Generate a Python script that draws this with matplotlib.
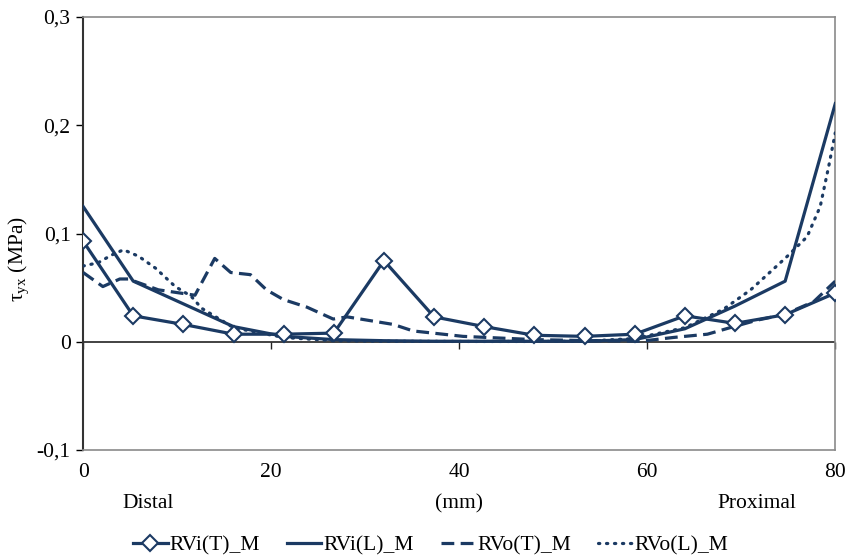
import matplotlib.pyplot as plt

# shear stress tau_yx along the vessel, distal (0 mm) -> proximal (80 mm)
x_nodes = [0, 5.33, 10.67, 16, 21.33, 26.67, 32, 37.33, 42.67, 48, 53.33, 58.67, 64, 69.33, 74.67, 80]
rvi_t = [0.093, 0.024, 0.016, 0.007, 0.007, 0.008, 0.075, 0.023, 0.014, 0.006, 0.005, 0.007, 0.024, 0.017, 0.025, 0.045]
rvi_l = [0.125, 0.056, 0.035, 0.014, 0.005, 0.002, 0.001, 0.0005, 0.0005, 0.0005, 0.0005, 0.002, 0.012, 0.033, 0.056, 0.220]

x_rvo_t = [0, 2.1, 3.9, 4.8, 8.0, 11.9, 14.0, 15.7, 17.8, 19.5, 21.3, 23.8, 26.6, 28.1, 30.9, 33.0,
           35.1, 40.4, 48, 54, 59.3, 62.8, 66.4, 68.8, 71.7, 74.5, 77.7, 80]
rvo_t = [0.064, 0.051, 0.058, 0.058, 0.048, 0.043, 0.077, 0.064, 0.062, 0.048, 0.039, 0.032, 0.021, 0.023,
         0.019, 0.016, 0.010, 0.005, 0.002, 0.001, 0.0005, 0.004, 0.007, 0.013, 0.020, 0.025, 0.037, 0.056]

x_rvo_l = [0, 1.6, 3.0, 4.3, 5.9, 7.7, 9.8, 11.5, 12.6, 16, 21.33, 26.67, 32, 40, 48, 53.33, 58.67,
           64, 68.1, 71.0, 73.4, 74.9, 77.0, 78.4, 79.3, 80]
rvo_l = [0.070, 0.073, 0.080, 0.085, 0.079, 0.068, 0.051, 0.042, 0.031, 0.013, 0.004, 0.001, 0.0005,
         0.0003, 0.0003, 0.0005, 0.003, 0.013, 0.030, 0.048, 0.067, 0.079, 0.097, 0.125, 0.162, 0.193]

y_ticks = [-0.1, 0, 0.1, 0.2, 0.3]
y_ticklabels = ['-0,1', '0', '0,1', '0,2', '0,3']
x_ticks = [0, 20, 40, 60, 80]

navy = '#1b3a63'
plt.rcParams['font.family'] = ['Liberation Serif', 'DejaVu Serif']
plt.rcParams['mathtext.fontset'] = 'custom'
plt.rcParams['mathtext.rm'] = 'Liberation Serif'

fig = plt.figure(figsize=(8.48, 5.58), dpi=100)
ax = fig.add_axes([0.098, 0.1935, 0.887, 0.776])

ax.plot(x_nodes, rvi_t, color=navy, lw=2.3, marker='D', ms=8.5, mfc='white', mec=navy, mew=1.5,
        label='RVi(T)_M', zorder=5)
ax.plot(x_nodes, rvi_l, color=navy, lw=2.3, label='RVi(L)_M', zorder=4)
ax.plot(x_rvo_t, rvo_t, color=navy, lw=2.3, dashes=(4, 2), label='RVo(T)_M', zorder=3)
ax.plot(x_rvo_l, rvo_l, color=navy, lw=2.3, dashes=(0.4, 2.1), dash_capstyle='round',
        label='RVo(L)_M', zorder=3)

ax.set_xlim(0, 80)
ax.set_ylim(-0.1, 0.3)

for side in ['top', 'right', 'bottom']:
    ax.spines[side].set_color('#8a8a8a')
    ax.spines[side].set_linewidth(1.2)
ax.spines['left'].set_color('#333333')
ax.spines['left'].set_linewidth(1.5)

ax.set_yticks(y_ticks)
ax.set_yticklabels(y_ticklabels)
ax.tick_params(axis='y', direction='out', length=5, width=1, labelsize=15.5, pad=4)
ax.set_xticks(x_ticks)
ax.tick_params(axis='x', length=0, labelsize=15.5, pad=9)

# zero line acts as the x axis, ticks hang below it
ax.axhline(0, color='#222222', lw=1.2, zorder=2)
zero_axis = ax.secondary_xaxis(0.25)
zero_axis.set_xticks(x_ticks)
zero_axis.tick_params(direction='out', length=5, width=1, labelbottom=False, color='#222222')
zero_axis.spines['bottom'].set_visible(False)

ax.set_ylabel('τ$_{\\mathrm{yx}}$ (MPa)', fontsize=15.5)
ax.yaxis.set_label_coords(-0.068, 0.44)

fig.text(0.175, 0.097, 'Distal', ha='center', va='center', fontsize=15.5)
fig.text(0.541, 0.097, '(mm)', ha='center', va='center', fontsize=15.5)
fig.text(0.893, 0.097, 'Proximal', ha='center', va='center', fontsize=15.5)

fig.legend(loc='center', bbox_to_anchor=(0.508, 0.022), ncol=4, frameon=False, fontsize=15.5,
           handlelength=1.6, handletextpad=0.1, columnspacing=1.25)

fig.savefig('out.png', dpi=100)
